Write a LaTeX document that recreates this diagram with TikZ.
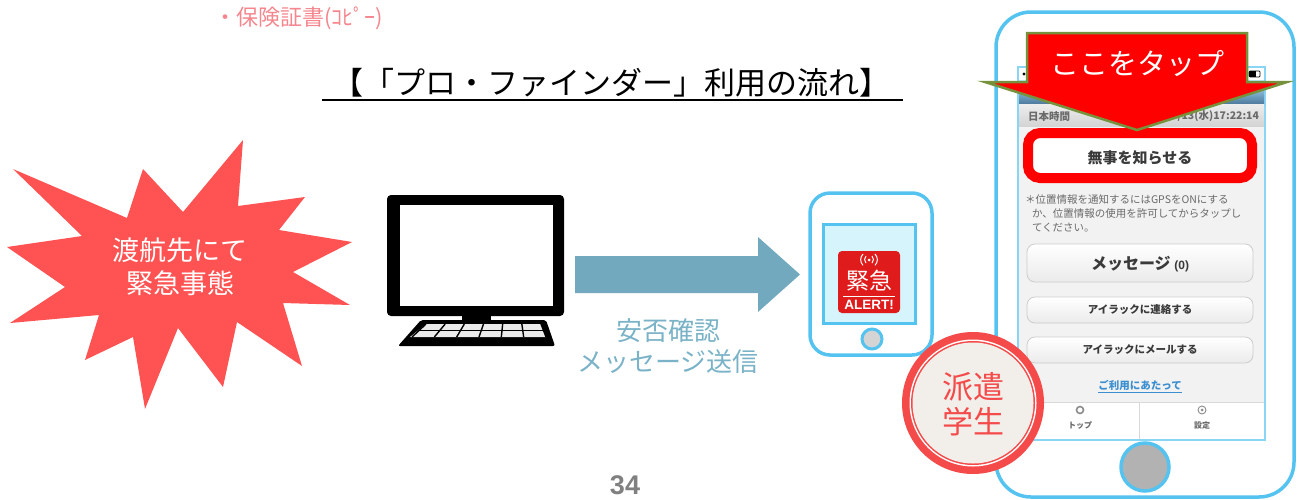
\documentclass[tikz,border=0pt]{standalone}
\usepackage{fontspec}
\setmainfont{Noto Sans CJK JP}
\newfontfamily\latinsans{Liberation Sans}
\usetikzlibrary{calc}

\definecolor{starred}{HTML}{FF5353}
\definecolor{flowteal}{HTML}{72A9BE}
\definecolor{flowtext}{HTML}{7AB2C7}
\definecolor{phoneblue}{HTML}{55C3F0}
\definecolor{screenice}{HTML}{D5F4FC}
\definecolor{badgered}{HTML}{F44A4A}
\definecolor{badgefill}{HTML}{F2EFEB}
\definecolor{notepink}{HTML}{F5868E}
\definecolor{tapolive}{HTML}{76923C}
\definecolor{tapred}{HTML}{FF0000}
\definecolor{alertred}{HTML}{E01B1B}
\definecolor{uitext}{HTML}{3A3A3A}
\definecolor{uinote}{HTML}{6A6A6A}
\definecolor{uilink}{HTML}{3B8FD0}

\newcommand{\fs}[1]{\fontsize{#1}{#1}\selectfont}

\tikzset{
  txt/.style={inner sep=0pt, outer sep=0pt},
  uibutton/.style={draw=black!20, top color=white, bottom color=black!8, rounded corners=8pt, line width=0.8pt},
  uilabel/.style={txt, text=uitext, font=\fs{10.5}\bfseries},
  notetxt/.style={txt, anchor=west, text=uinote, font=\fs{10.5}},
  phoneframe/.style={draw=phoneblue, line width=3.5pt},
}

\begin{document}
\begin{tikzpicture}[x=1pt,y=-1pt]
\useasboundingbox (0,0) rectangle (1298,499);

% bullet note at the top
\node[txt, anchor=west, text=notepink, font=\fs{22}] (note) at (214,18) {・保険証書(ｺﾋﾟｰ)};

% heading with underline
\node[txt, font=\fs{31}] (title) at (611,83) {【「プロ・ファインダー」利用の流れ】};
\draw[line width=1.5pt] (322,100) -- (903,100);

% starburst: emergency abroad
\fill[starred] (13,169) -- (127,218) -- (143,169) -- (183,212) -- (243,140) -- (238,206)
  -- (305,197) -- (279,230) -- (352,242) -- (293,272) -- (350,305) -- (283,303)
  -- (302,366) -- (237,322) -- (223,387) -- (178,328) -- (145,409) -- (133,337)
  -- (85,360) -- (99,315) -- (10,323) -- (65,287) -- (7,247) -- (82,236) -- cycle;
\node[txt, text=white, font=\fs{27}, align=center] (emergency) at (180,267)
  {渡航先にて\\[6pt]緊急事態};

% desktop computer
\fill[black, rounded corners=4pt] (387,195) rectangle (564,316);
\fill[white] (400,205) rectangle (553,306);
\coordinate (pc) at (476,260);
\fill[black] (462,314) rectangle (491,322);
\fill[black, rounded corners=2pt] (421,320) -- (546,320) -- (555,346) -- (398,346) -- cycle;
\fill[black!8] (426,324) -- (541,324) -- (546,337) -- (410,337) -- cycle;
\draw[black, line width=1.4pt] (418,330.5) -- (544,330.5);
\foreach \k in {0,...,6} {
  \draw[black, line width=1.4pt] ($(426,324)!\k/6!(541,324)$) -- ($(412,337)!\k/6!(546,337)$);
}

% flow arrow from the computer to the phone
\coordinate (flowstart) at (575,274.5);
\coordinate (flowtip) at (800,274.5);
\fill[flowteal] (flowstart) ++(0,-18.5) -- ++(183,0) -- ++(0,-19) -- (flowtip)
  -- ++(-42,37.5) -- ++(0,-19) -- ++(-183,0) -- cycle;
\node[txt, text=flowtext, font=\fs{26}] (flowlabel1) at (668,331) {安否確認};
\node[txt, text=flowtext, font=\fs{26}] (flowlabel2) at (668,362) {メッセージ送信};

% small phone with alert
\draw[phoneframe, fill=white, rounded corners=20pt] (810,193) rectangle (932,355);
\draw[draw=phoneblue, line width=3pt, fill=screenice] (823,224) rectangle (915,323);
\node[circle, minimum size=20pt, fill=black!17, draw=phoneblue, line width=3pt, inner sep=0pt] (smallhome) at (872,339) {};
\fill[alertred, rounded corners=4pt] (838,251) rectangle (900,313);
\fill[white] (869,260) circle (1.5pt);
\draw[white, line width=1pt] (866,256) arc[start angle=135, end angle=225, radius=5pt];
\draw[white, line width=1pt] (872,256) arc[start angle=45, end angle=-45, radius=5pt];
\draw[white, line width=1pt] (863,254) arc[start angle=135, end angle=225, radius=8pt];
\draw[white, line width=1pt] (875,254) arc[start angle=45, end angle=-45, radius=8pt];
\node[txt, text=white, font=\fs{23}] (alertkanji) at (869,281) {緊急};
\draw[white, line width=0.8pt] (843,296) -- (895,296);
\node[txt, text=white, font=\latinsans\fs{13.5}\bfseries] (alertword) at (869,305) {ALERT!};

% large phone
\draw[phoneframe, fill=white, rounded corners=35pt] (996,12) rectangle (1294,497);
\draw[draw=phoneblue!70, line width=1.5pt, fill=black!5] (1018,67) rectangle (1265,440);
\fill[white] (1019,68) rectangle (1264,80);
\fill[black] (1024,74) circle (1.6pt);
\draw[black, line width=0.7pt, rounded corners=1pt] (1249,71) rectangle (1260,77);
\fill[black] (1249,71) rectangle (1256,77);
\shade[top color=blue!25!cyan!30!white, bottom color=blue!45!cyan!45!black!70] (1019,80) rectangle (1264,104);
\shade[top color=black!7, bottom color=black!17] (1019,104) rectangle (1264,126);
\node[uilabel, anchor=west, text=uinote] (clocklabel) at (1028,116) {日本時間};
\node[uilabel, anchor=east, text=uinote] (clock) at (1259,116) {05/13(水)17:22:14};

% safety report button, ringed in red
\draw[fill=white, draw=tapred, line width=10pt, rounded corners=12pt] (1028,133) rectangle (1252,178);
\node[txt, text=uitext, font=\fs{15}\bfseries] (safebtn) at (1140,158) {無事を知らせる};

\node[notetxt] (note1) at (1025,200) {＊位置情報を通知するにはGPSをONにする};
\node[notetxt] (note2) at (1032,214) {か、位置情報の使用を許可してからタップし};
\node[notetxt] (note3) at (1032,228) {てください。};

\draw[uibutton] (1027,244) rectangle (1253,282);
\node[txt, text=uitext, font=\fs{16}\bfseries] (msgbtn) at (1140,264) {メッセージ {\latinsans\fs{12}(0)}};
\draw[uibutton] (1027,297) rectangle (1253,323);
\node[uilabel] (callbtn) at (1140,310) {アイラックに連絡する};
\draw[uibutton] (1027,337) rectangle (1253,363);
\node[uilabel] (mailbtn) at (1140,350) {アイラックにメールする};
\node[txt, text=uilink, font=\fs{10.5}\bfseries] (guide) at (1140,385) {ご利用にあたって};
\draw[uilink, line width=0.8pt] (guide.south west) ++(0,2) -- ($(guide.south east)+(0,2)$);

% bottom tab bar
\fill[white] (1019,402) rectangle (1264,439);
\draw[black!15, line width=0.8pt] (1019,402) -- (1264,402);
\draw[black!15, line width=0.8pt] (1139,402) -- (1139,439);
\draw[black!45, line width=1.6pt] (1080,410) circle (3.5pt);
\draw[black!45, line width=0.9pt] (1202,410) circle (4pt);
\fill[black!45] (1202,410) circle (1.5pt);
\node[txt, text=uinote, font=\fs{8}\bfseries] (tabtop) at (1080,425) {トップ};
\node[txt, text=uinote, font=\fs{8}\bfseries] (tabset) at (1202,425) {設定};

\node[circle, minimum size=48pt, fill=black!30, draw=phoneblue, line width=3.5pt, inner sep=0pt] (bighome) at (1145,467) {};

% "tap here" pointer
\filldraw[fill=tapred, draw=tapolive, line width=2.5pt, line join=miter]
  (1027,33) -- (1247,33) -- (1247,82) -- (1287,82) -- (1137,130) -- (985,82) -- (1027,82) -- cycle;
\node[txt, text=white, font=\fs{29}] (tap) at (1137,64) {ここをタップ};

% student badge
\fill[badgered] (973,403) circle (71pt);
\fill[white] (973,403) circle (63.5pt);
\fill[badgered] (973,403) circle (62pt);
\fill[badgefill] (973,403) circle (60.5pt);
\node[txt, text=badgered, font=\fs{31}, align=center] (student) at (973,404) {派遣\\[4pt]学生};

% page number
\node[anchor=base, inner sep=0pt, text=black!50, font=\latinsans\fs{27}\bfseries] (page) at (625,494) {34};
\end{tikzpicture}
\end{document}
